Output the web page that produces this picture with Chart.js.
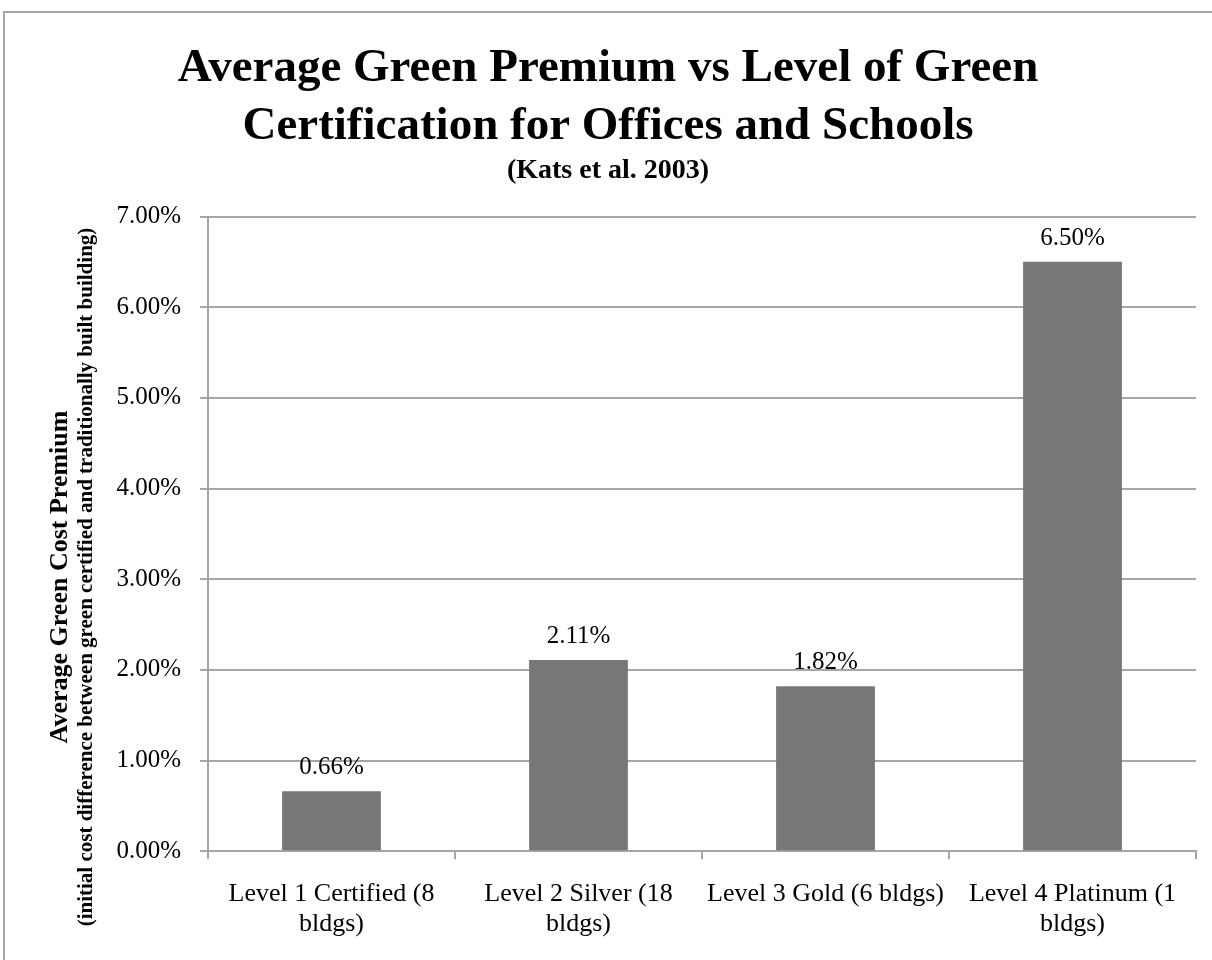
<!DOCTYPE html>
<html><head><meta charset="utf-8">
<script src="https://cdn.jsdelivr.net/npm/chart.js@4/dist/chart.umd.min.js"></script>
<style>
html,body{margin:0;padding:0;background:#fff;overflow:hidden;}
#wrap{position:relative;width:1212px;height:960px;overflow:hidden;}
#frame{position:absolute;left:3px;top:11px;width:1300px;height:1100px;border-left:2px solid #a6a6a6;border-top:2px solid #a6a6a6;}
canvas{position:absolute;left:0;top:0;}
</style></head><body>
<div id="wrap"><div id="frame"></div><canvas id="c" width="1212" height="960"></canvas></div>
<script>
const categories = [
  ['Level 1 Certified (8', 'bldgs)'],
  ['Level 2 Silver (18', 'bldgs)'],
  ['Level 3 Gold (6 bldgs)'],
  ['Level 4 Platinum (1', 'bldgs)']
];
const premiumValues = [0.66, 2.11, 1.82, 6.50];
const yTickMin = 0, yTickMax = 7, yTickStep = 1;
const titleLines = ['Average Green Premium vs Level of Green', 'Certification for Offices and Schools'];
const subtitleText = '(Kats et al. 2003)';
const yTitleMain = 'Average Green Cost Premium';
const yTitleSub = '(initial cost difference between green certified and traditionally built building)';

const SERIF = "'Liberation Serif', 'Times New Roman', serif";
const GRID = '#a6a6a6';

const valueLabels = {
  id: 'valueLabels',
  afterDatasetsDraw(chart) {
    const ctx = chart.ctx;
    const meta = chart.getDatasetMeta(0);
    ctx.save();
    ctx.font = '25px ' + SERIF;
    ctx.fillStyle = '#000';
    ctx.textAlign = 'center';
    ctx.textBaseline = 'alphabetic';
    meta.data.forEach((bar, i) => {
      const v = chart.data.datasets[0].data[i];
      ctx.fillText(v.toFixed(2) + '%', bar.x, bar.y - 17);
    });
    ctx.restore();
  }
};

const yTitlePlugin = {
  id: 'yTitlePlugin',
  afterDraw(chart) {
    const ctx = chart.ctx;
    const cy = 577;
    ctx.save();
    ctx.fillStyle = '#000';
    ctx.textAlign = 'center';
    ctx.textBaseline = 'middle';
    ctx.translate(60, cy);
    ctx.rotate(-Math.PI / 2);
    ctx.font = 'bold 26px ' + SERIF;
    ctx.fillText(yTitleMain, 0, 0);
    ctx.restore();
    ctx.save();
    ctx.fillStyle = '#000';
    ctx.textAlign = 'center';
    ctx.textBaseline = 'middle';
    ctx.translate(87, cy);
    ctx.rotate(-Math.PI / 2);
    ctx.font = 'bold 21px ' + SERIF;
    ctx.fillText(yTitleSub, 0, 0);
    ctx.restore();
  }
};

new Chart(document.getElementById('c'), {
  type: 'bar',
  data: {
    labels: categories,
    datasets: [{
      data: premiumValues,
      backgroundColor: '#777777',
      borderWidth: 0,
      categoryPercentage: 1.0,
      barPercentage: 0.4
    }]
  },
  options: {
    responsive: false,
    animation: false,
    devicePixelRatio: 1,
    layout: { padding: { top: 0, right: 16, bottom: 1, left: 20 } },
    plugins: {
      legend: { display: false },
      tooltip: { enabled: false },
      title: {
        display: true,
        text: titleLines,
        color: '#000',
        font: { family: SERIF, size: 47, weight: 'bold', lineHeight: 1.25 },
        padding: { top: 39, bottom: 0 }
      },
      subtitle: {
        display: true,
        text: subtitleText,
        color: '#000',
        font: { family: SERIF, size: 28, weight: 'bold', lineHeight: 1.0 },
        padding: { top: 0, bottom: 32 }
      }
    },
    scales: {
      x: {
        grid: { display: true, drawOnChartArea: false, drawTicks: true, tickLength: 8, color: GRID, lineWidth: 2, offset: true },
        border: { display: true, color: GRID, width: 2 },
        ticks: { color: '#000', font: { family: SERIF, size: 26, lineHeight: 1.15 }, padding: 20, maxRotation: 0, minRotation: 0, autoSkip: false }
      },
      y: {
        min: yTickMin,
        max: yTickMax,
        grid: { color: GRID, lineWidth: 2, tickLength: 8, drawTicks: true },
        border: { display: true, color: GRID, width: 2 },
        ticks: {
          stepSize: yTickStep,
          color: '#000',
          font: { family: SERIF, size: 25 },
          padding: 19,
          callback: v => v.toFixed(2) + '%'
        },
        afterFit(scale) { scale.width = 188; }
      }
    }
  },
  plugins: [valueLabels, yTitlePlugin]
});
</script>
</body></html>
